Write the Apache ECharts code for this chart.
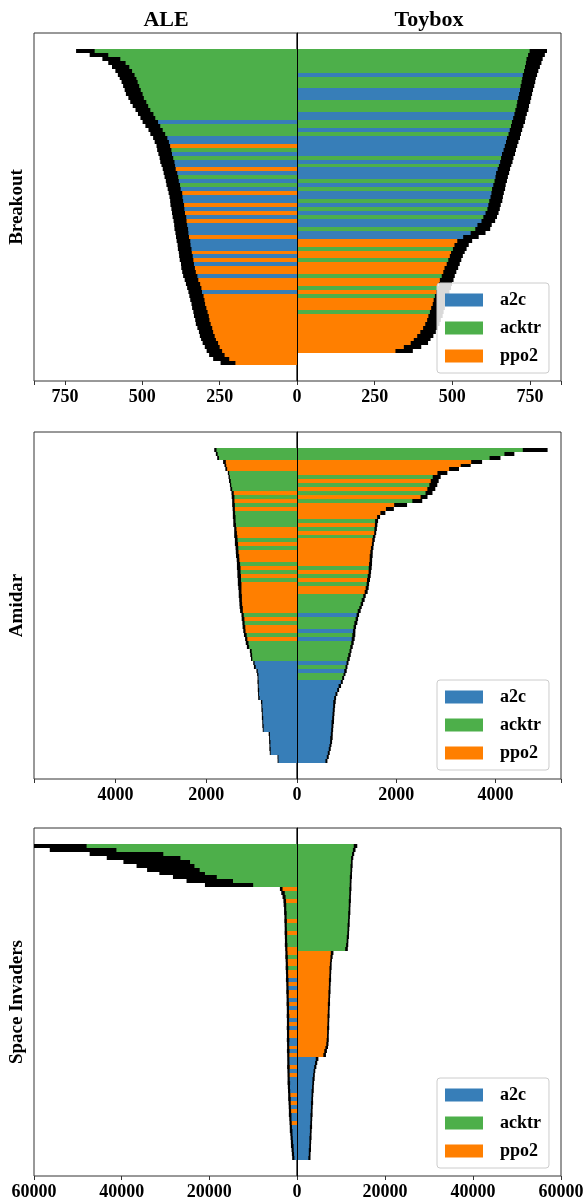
<!DOCTYPE html>
<html>
<head>
<meta charset="utf-8">
<title>ALE vs Toybox</title>
<script src="https://cdn.jsdelivr.net/npm/echarts@6/dist/echarts.min.js"></script>
<style>
  html, body { margin: 0; padding: 0; background: #fff; }
  #chart { width: 587px; height: 1201px; }
</style>
</head>
<body>
<div id="chart"></div>
<script>
// agents and their colours
const agents = ['a2c', 'acktr', 'ppo2'];
const agentColors = { a2c: '#377eb8', acktr: '#4daf4a', ppo2: '#ff7f00' };
// one letter per bar: b = a2c, g = acktr, o = ppo2
const agentCodes = { b: 'a2c', g: 'acktr', o: 'ppo2' };

// ---- Breakout ----
const breakoutAleAgents = ('gggggggggggggggggg' + 'b' + 'ggg' + 'bbogbgbb' + 'obgbgbobbo' +
  'bobobbbobb' + 'boboboobooob' + 'oooooooooooooooooo').split('');
const breakoutAleScores = [
  684, 640, 600, 582, 570, 560, 552, 546, 541, 536,
  531, 526, 520, 513, 506, 498, 489, 482, 474, 466,
  457, 450, 442, 437, 432, 429, 426, 422, 419, 416,
  413, 409, 406, 403, 400, 397, 393, 391, 389, 387,
  385, 383, 380, 378, 376, 374, 372, 370, 367, 365,
  363, 361, 359, 357, 354, 352, 349, 345, 341, 336,
  332, 329, 325, 322, 319, 316, 312, 309, 306, 303,
  298, 294, 290, 286, 280, 274, 267, 259, 245, 223];
const breakoutAleErrors = [
  30, 30, 29, 28, 28, 27, 27, 27, 26, 26,
  26, 27, 25, 26, 25, 24, 25, 24, 25, 24,
  23, 24, 23, 23, 22, 23, 22, 22, 23, 22,
  21, 22, 22, 21, 22, 21, 22, 21, 21, 22,
  21, 21, 22, 21, 21, 22, 21, 21, 22, 21,
  22, 21, 22, 22, 21, 22, 22, 23, 22, 23,
  23, 22, 23, 23, 22, 23, 23, 24, 23, 24,
  24, 23, 24, 24, 25, 24, 25, 25, 26, 24];

const breakoutToyboxAgents = ('gggggg' + 'bgggbbbggg' + 'bbggbgbbbbb' + 'gbgbbbgbgbb' +
  'gbgbgbbgbb' + 'oogoogooogoogogooog' + 'oooooooooo').split('');
const breakoutToyboxScores = [
  777, 771, 765, 762, 758, 754, 750, 747, 745, 742,
  739, 736, 733, 730, 727, 724, 720, 716, 713, 709,
  705, 701, 697, 693, 689, 685, 681, 677, 674, 670,
  666, 662, 659, 656, 652, 649, 646, 643, 640, 636,
  633, 628, 622, 616, 604, 598, 583, 560, 540, 530,
  524, 518, 513, 508, 503, 497, 492, 487, 482, 478,
  474, 470, 466, 462, 458, 454, 450, 446, 441, 436,
  430, 422, 413, 403, 394, 372, 345];
const breakoutToyboxErrors = [
  28, 27, 26, 25, 24, 23, 23, 22, 22, 22,
  21, 21, 21, 21, 20, 21, 20, 20, 21, 20,
  20, 20, 21, 20, 20, 20, 21, 20, 20, 20,
  20, 21, 20, 20, 20, 21, 20, 20, 21, 20,
  20, 21, 22, 22, 23, 24, 24, 25, 24, 23,
  22, 22, 21, 21, 21, 22, 21, 21, 22, 21,
  22, 21, 22, 22, 21, 22, 22, 23, 22, 23,
  24, 25, 26, 27, 28, 28, 28];

// ---- Amidar ----
const amidarAleAgents = ('ggg' + 'ooo' + 'ggggg' + 'ogogo' + 'gggg' + 'ooo' + 'gog' + 'ooo' +
  'gogog' + 'oooooooo' + 'gogoo' + 'go' + 'ggggg' + 'bbbbbbbbbbbbbbbbbbbbbbbbbb').split('');
const amidarAleScores = [
  1800, 1770, 1740, 1600, 1580, 1560, 1510, 1495, 1480, 1465,
  1450, 1420, 1410, 1405, 1400, 1395, 1390, 1385, 1380, 1375,
  1360, 1355, 1350, 1340, 1335, 1325, 1320, 1310, 1300, 1290,
  1285, 1280, 1275, 1270, 1265, 1260, 1255, 1250, 1245, 1240,
  1230, 1225, 1200, 1190, 1180, 1170, 1160, 1140, 1120, 1100,
  1080, 1020, 1010, 1000, 950, 930, 880, 865, 860, 858,
  855, 850, 848, 840, 780, 775, 770, 765, 760, 755,
  750, 745, 610, 605, 600, 598, 595, 590, 420, 418];
const amidarAleErrors = [
  25, 20, 20, 30, 20, 20, 15, 15, 20, 15,
  20, 25, 30, 25, 30, 25, 25, 30, 25, 30,
  25, 30, 35, 30, 35, 30, 30, 35, 30, 35,
  40, 35, 40, 35, 40, 35, 30, 35, 30, 30,
  35, 30, 25, 30, 25, 30, 25, 30, 25, 30,
  25, 20, 20, 15, 15, 20, 15, 15, 10, 15,
  10, 15, 10, 15, 15, 10, 15, 10, 15, 10,
  15, 10, 15, 10, 15, 10, 15, 10, 10, 10];

const amidarToyboxAgents = ('ggg' + 'oooo' + 'gogogog' + 'oooo' + 'gogogo' + 'oooooo' +
  'gogogoo' + 'ggggg' + 'bgggbgb' + 'ggggg' + 'bgbgg' + 'bbbbbbbbbbbbbbbbbbbbb').split('');
const amidarToyboxScores = [
  4800, 4280, 3990, 3620, 3400, 3165, 2930, 2815, 2775, 2747,
  2707, 2660, 2560, 2424, 2088, 1872, 1731, 1644, 1604, 1595,
  1585, 1576, 1555, 1542, 1529, 1515, 1502, 1495, 1489, 1482,
  1475, 1468, 1455, 1441, 1428, 1414, 1394, 1360, 1333, 1307,
  1280, 1253, 1226, 1206, 1186, 1165, 1152, 1145, 1132, 1118,
  1098, 1078, 1058, 1038, 1018, 997, 977, 957, 930, 903,
  863, 829, 795, 768, 755, 748, 741, 735, 728, 721,
  714, 708, 701, 694, 687, 674, 660, 640, 620, 593];
const amidarToyboxErrors = [
  250, 100, 110, 110, 100, 100, 100, 80, 80, 80,
  80, 70, 70, 100, 130, 80, 50, 30, 30, 25,
  25, 20, 25, 25, 20, 25, 25, 30, 25, 30,
  30, 25, 30, 30, 25, 30, 30, 25, 30, 25,
  25, 30, 25, 25, 30, 25, 25, 30, 30, 25,
  25, 20, 25, 25, 20, 20, 25, 20, 20, 20,
  25, 20, 20, 20, 25, 20, 20, 20, 20, 25,
  20, 20, 20, 25, 20, 20, 20, 20, 20, 20];

// ---- Space Invaders ----
const invadersAleAgents = ('ggggggggggg' + 'oggo' + 'gggg' + 'oggo' + 'ggg' + 'oogoogoo' +
  'boboobo' + 'boobobo' + 'obbobo' + 'bbobobbbbobobobbo' + 'bbbbbbbbb').split('');
const invadersAleScores = [
  60000, 48800, 38900, 35000, 32000, 30000, 28200, 26200, 23300, 19900,
  15500, 3600, 3190, 2950, 2800, 2750, 2700, 2650, 2620, 2600,
  2580, 2560, 2540, 2520, 2500, 2480, 2450, 2400, 2380, 2350,
  2320, 2300, 2280, 2250, 2230, 2200, 2180, 2160, 2140, 2120,
  2100, 2080, 2070, 2060, 2050, 2050, 2050, 2040, 2040, 2030,
  2020, 2010, 2000, 1990, 1980, 1970, 1960, 1940, 1920, 1900,
  1870, 1840, 1800, 1760, 1720, 1680, 1640, 1600, 1560, 1510,
  1460, 1400, 1340, 1280, 1220, 1150, 1080, 1000, 920, 850];
const invadersAleErrors = [
  12000, 7600, 8400, 8400, 7600, 6600, 6000, 5200, 5000, 5300,
  5500, 300, 400, 350, 300, 300, 250, 300, 250, 300,
  250, 250, 300, 250, 250, 300, 250, 250, 300, 250,
  250, 300, 250, 250, 300, 250, 250, 300, 250, 250,
  300, 250, 250, 300, 250, 250, 300, 250, 250, 300,
  250, 250, 300, 250, 250, 250, 300, 250, 250, 250,
  300, 250, 250, 250, 300, 250, 250, 250, 300, 250,
  250, 250, 300, 250, 250, 250, 300, 250, 250, 250];

const invadersToyboxAgents = ('ggggggggggggggggggggggggggg' + 'ooooooooooooooooooooooooooo' +
  'bbbbbbbbbbbbbbbbbbbbbbbbbb').split('');
const invadersToyboxScores = [
  13300, 13000, 12750, 12540, 12450, 12400, 12350, 12300, 12250, 12200,
  12170, 12130, 12090, 12050, 12010, 11970, 11930, 11880, 11830, 11780,
  11730, 11680, 11630, 11560, 11480, 11400, 11250, 7980, 7850, 7750,
  7680, 7620, 7580, 7540, 7500, 7460, 7420, 7380, 7340, 7300,
  7260, 7230, 7200, 7170, 7140, 7110, 7080, 7050, 7020, 6980,
  6900, 6750, 6500, 6280, 4560, 4350, 4150, 3960, 3850, 3760,
  3680, 3620, 3560, 3500, 3450, 3420, 3380, 3340, 3300, 3260,
  3220, 3180, 3140, 3100, 3060, 3020, 2980, 2930, 2880, 2820];
const invadersToyboxErrors = [
  400, 300, 250, 250, 200, 250, 200, 200, 250, 200,
  200, 250, 200, 200, 250, 200, 200, 250, 200, 200,
  250, 200, 200, 250, 200, 250, 300, 300, 250, 200,
  200, 250, 200, 200, 250, 200, 200, 250, 200, 200,
  250, 200, 200, 250, 200, 200, 250, 200, 200, 250,
  250, 300, 300, 300, 300, 250, 250, 200, 200, 250,
  200, 200, 250, 200, 200, 250, 200, 200, 250, 200,
  200, 250, 200, 200, 250, 200, 200, 250, 200, 250];

// tick step of each game's score axis
const breakoutStep = 250;
const amidarStep = 2000;
const invadersStep = 20000;

const panels = [
  {
    game: 'Breakout', top: 33, height: 348, legendTop: 283,
    xMax: [850, 850], step: breakoutStep,
    sides: [
      { agents: breakoutAleAgents, scores: breakoutAleScores, errors: breakoutAleErrors },
      { agents: breakoutToyboxAgents, scores: breakoutToyboxScores, errors: breakoutToyboxErrors }
    ]
  },
  {
    game: 'Amidar', top: 432, height: 347, legendTop: 680,
    xMax: [5800, 5320], step: amidarStep,
    sides: [
      { agents: amidarAleAgents, scores: amidarAleScores, errors: amidarAleErrors },
      { agents: amidarToyboxAgents, scores: amidarToyboxScores, errors: amidarToyboxErrors }
    ]
  },
  {
    game: 'Space Invaders', top: 828, height: 348, legendTop: 1078,
    xMax: [60000, 60000], step: invadersStep,
    sides: [
      { agents: invadersAleAgents, scores: invadersAleScores, errors: invadersAleErrors },
      { agents: invadersToyboxAgents, scores: invadersToyboxScores, errors: invadersToyboxErrors }
    ]
  }
];

const serif = '"Liberation Serif", "DejaVu Serif", serif';

// bar from 0 to the mean, black error bar from mean-err to mean+err
function renderBar(params, api) {
  const i = api.value(0);
  const v = api.value(1);
  const e = api.value(2);
  const a = api.coord([0, i - 0.5]);
  const b = api.coord([0, i + 0.5]);
  const y0 = Math.round(Math.min(a[1], b[1]));
  const y1 = Math.round(Math.max(a[1], b[1]));
  const x0 = a[0];
  const xv = api.coord([v, i])[0];
  const xa = api.coord([v - e, i])[0];
  const xb = api.coord([v + e, i])[0];
  const cs = params.coordSys;
  const clip = { x: cs.x, y: cs.y, width: cs.width, height: cs.height };
  const bar = echarts.graphic.clipRectByRect(
    { x: Math.min(x0, xv), y: y0, width: Math.abs(xv - x0), height: y1 - y0 }, clip);
  const err = echarts.graphic.clipRectByRect(
    { x: Math.min(xa, xb), y: y0, width: Math.abs(xb - xa), height: y1 - y0 }, clip);
  const children = [];
  if (bar) children.push({ type: 'rect', shape: bar, style: { fill: api.visual('color') } });
  if (err) children.push({ type: 'rect', shape: err, style: { fill: '#000' } });
  return { type: 'group', children: children };
}

const grids = [], xAxes = [], yAxes = [], series = [], legends = [];

panels.forEach((p, pi) => {
  const n = Math.max(p.sides[0].scores.length, p.sides[1].scores.length);
  const margin = 0.05 * n;
  p.sides.forEach((side, si) => {
    const gi = pi * 2 + si;
    grids.push({
      left: si === 0 ? 34 : 297, top: p.top,
      width: si === 0 ? 263 : 264, height: p.height,
      show: true, borderColor: '#333', borderWidth: 1
    });
    xAxes.push({
      gridIndex: gi, type: 'value', min: 0, max: p.xMax[si], interval: p.step,
      inverse: si === 0, position: 'bottom',
      axisLine: { show: false, onZero: false },
      splitLine: { show: false },
      axisTick: { show: true, length: 4, lineStyle: { color: '#333' } },
      axisLabel: {
        margin: 7, color: '#000', fontFamily: serif, fontWeight: 'bold', fontSize: 18,
        hideOverlap: false, showMinLabel: true, showMaxLabel: true,
        formatter: function (v) {
          if (v % p.step !== 0) return '';
          if (si === 1 && v === 0) return '';
          return String(v);
        }
      }
    });
    yAxes.push({
      gridIndex: gi, type: 'value', inverse: true,
      min: -0.5 - margin, max: n - 0.5 + margin,
      position: si === 0 ? 'right' : 'left', z: 10,
      axisLine: { show: si === 0, onZero: false, lineStyle: { color: '#000', width: 1 } },
      axisTick: { show: false }, axisLabel: { show: false }, splitLine: { show: false }
    });
    agents.forEach(name => {
      const data = [];
      side.agents.forEach((code, i) => {
        if (agentCodes[code] === name) data.push([i, side.scores[i], side.errors[i]]);
      });
      series.push({
        type: 'custom', name: name,
        xAxisIndex: gi, yAxisIndex: gi,
        encode: { x: 1, y: 0 },
        itemStyle: { color: agentColors[name] },
        renderItem: renderBar,
        data: data
      });
    });
  });
  legends.push({
    orient: 'vertical', left: 437, top: p.legendTop,
    data: agents, icon: 'rect', itemWidth: 38, itemHeight: 13, itemGap: 10,
    padding: 8, backgroundColor: 'rgba(255,255,255,0.85)',
    borderColor: '#ccc', borderWidth: 1, borderRadius: 3,
    selectedMode: false, z: 20,
    textStyle: { color: '#000', fontFamily: serif, fontWeight: 'bold', fontSize: 18, padding: [0, 0, 0, 12] }
  });
});

const texts = [
  { type: 'text', x: 166, y: 20, style: { text: 'ALE', font: 'bold 22px ' + serif, fill: '#000', textAlign: 'center', textVerticalAlign: 'middle' } },
  { type: 'text', x: 429, y: 20, style: { text: 'Toybox', font: 'bold 22px ' + serif, fill: '#000', textAlign: 'center', textVerticalAlign: 'middle' } }
];
panels.forEach(p => {
  texts.push({
    type: 'text', x: 17, y: p.top + p.height / 2, rotation: Math.PI / 2,
    style: { text: p.game, font: 'bold 19px ' + serif, fill: '#000', textAlign: 'center', textVerticalAlign: 'middle' }
  });
});

const chart = echarts.init(document.getElementById('chart'));
chart.setOption({
  animation: false,
  backgroundColor: '#fff',
  grid: grids,
  xAxis: xAxes,
  yAxis: yAxes,
  legend: legends,
  graphic: texts,
  series: series
});
</script>
</body>
</html>
